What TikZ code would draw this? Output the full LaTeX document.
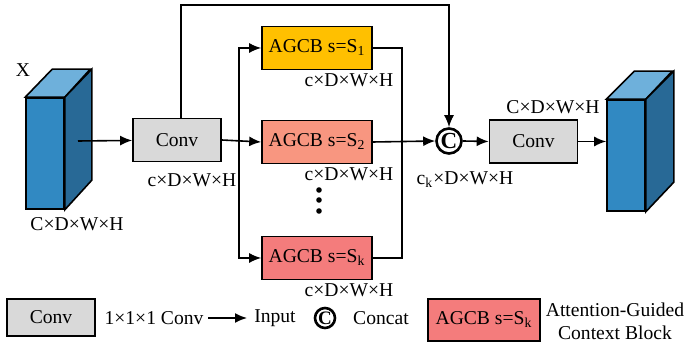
\documentclass[tikz,border=0pt]{standalone}
\usepackage{fontspec}
\setmainfont{Liberation Serif}
\usetikzlibrary{shapes,arrows,arrows.meta,positioning}
\definecolor{convgray}{RGB}{217,217,217}
\definecolor{agcbone}{RGB}{255,192,0}
\definecolor{agcbtwo}{RGB}{248,150,128}
\definecolor{agcbk}{RGB}{244,124,124}
\definecolor{cubefront}{RGB}{49,137,194}
\definecolor{cubetop}{RGB}{110,176,219}
\definecolor{cubeside}{RGB}{40,105,150}

\begin{document}
\begin{tikzpicture}[x=0.5pt, y=-0.5pt, every node/.style={font=\rmfamily\fontsize{9.8pt}{11.5pt}\selectfont},
  block/.style={rectangle, draw, thick, minimum height=21.5pt, minimum width=55pt, inner sep=1pt, align=center},
  conv/.style={block, fill=convgray, minimum width=44pt},
  cube/.style={rectangle, draw, thick, fill=cubefront, minimum width=19pt, minimum height=55.5pt},
  cat/.style={circle, draw, line width=1.3pt, inner sep=0pt, minimum size=12.5pt, font=\rmfamily\fontsize{11.5pt}{11.5pt}\selectfont\bfseries},
  dim/.style={inner sep=0pt},
  arrow/.style={-{Latex[length=6pt, width=5pt]}, thick}]
\useasboundingbox (0,0) rectangle (687,346);
% input volume
\node[cube] (xin) at (45,153.5) {};
\filldraw[thick, fill=cubetop] (xin.north west) -- ++(27,-28) -- ++(38,0) -- (xin.north east) -- cycle;
\filldraw[thick, fill=cubeside] (xin.north east) -- ++(27,-28) -- ++(0,111) -- (xin.south east) -- cycle;
\node[dim] (xlab) at (23,70) {X};
\node[dim] (xdim) at (77,224) {C×D×W×H};
\coordinate (xout) at (78,141);
% first conv and branches
\node[conv] (conv1) at (177,140) {Conv};
\node[dim] (c1dim) at (192,180) {c×D×W×H};
\node[block, fill=agcbone] (agcb1) at (317,48) {AGCB s=S\textsubscript{1}};
\node[block, fill=agcbtwo] (agcb2) at (317,142) {AGCB s=S\textsubscript{2}};
\node[block, fill=agcbk] (agcbk) at (317,258) {AGCB s=S\textsubscript{k}};
\node[dim] (d1) at (349,80) {c×D×W×H};
\node[dim] (d2) at (349,174) {c×D×W×H};
\node[dim] (dk) at (349,290) {c×D×W×H};
\foreach \y in {190,200,211} \fill (319,\y) circle (1.4pt);
\coordinate (split) at (239,141);
\coordinate (merge) at (402,141);
% concat and output
\node[cat] (cat) at (449,141) {C};
\node[dim] (catdim) at (465,180) {c\textsubscript{k}×D×W×H};
\node[conv] (conv2) at (533.5,141.5) {Conv};
\node[dim] (c2dim) at (553,107) {C×D×W×H};
\node[cube] (yout) at (626,155.5) {};
\filldraw[thick, fill=cubetop] (yout.north west) -- ++(28,-28) -- ++(38,0) -- (yout.north east) -- cycle;
\filldraw[thick, fill=cubeside] (yout.north east) -- ++(28,-28) -- ++(0,111) -- (yout.south east) -- cycle;
% connectors
\draw[arrow] (xout) -- (conv1);
\draw[arrow] (conv1.east) -- (agcb2.west);
\draw[arrow] (split) |- (agcb1.west); \draw[arrow] (split) |- (agcbk.west);
\draw[thick] (agcb1.east) -| (merge); \draw[thick] (agcbk.east) -| (merge);
\draw[arrow] (agcb2.east) -- (cat.west);
\draw[arrow] (conv1.north -| 181,0) |- (449,5) -- (cat.north);
\draw[arrow] (cat.east) -- (conv2.west);
\draw[arrow] (conv2.east) -- (conv2.east -| yout.west);
% legend
\node[conv, minimum height=18.5pt] (lconv) at (51,317.5) {Conv};
\node[dim] (lconvtxt) at (154,318) {1×1×1 Conv};
\coordinate (larrs) at (208,318); \coordinate (larre) at (247,318);
\draw[arrow] (larrs) -- (larre);
\node[dim] (linput) at (275,318) {Input};
\node[cat, minimum size=10pt, font=\rmfamily\fontsize{9.5pt}{9.5pt}\selectfont\bfseries] (lcat) at (325,318) {C};
\node[dim] (lcattxt) at (381,318) {Concat};
\node[block, fill=agcbk, minimum width=56pt, minimum height=21pt] (lagcb) at (484,320) {AGCB s=S\textsubscript{k}};
\node[dim, align=center] (lagcbtxt) at (615,321) {Attention-Guided\\Context Block};
\end{tikzpicture}
\end{document}
